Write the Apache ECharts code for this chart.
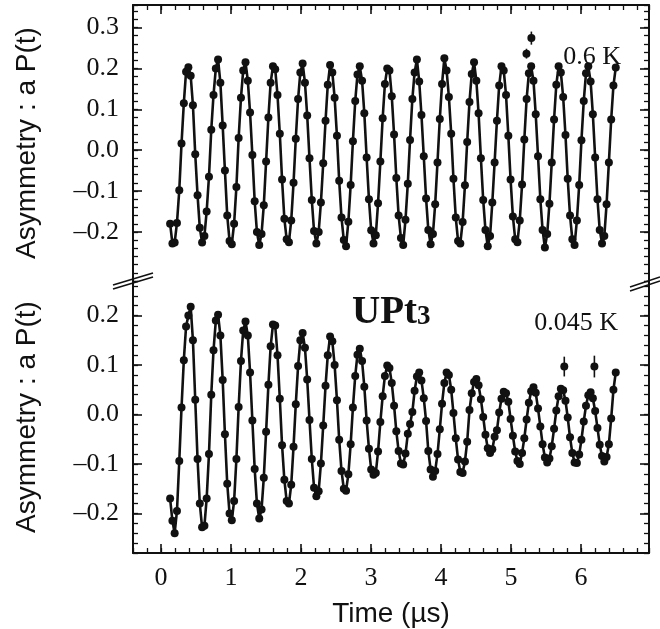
<!DOCTYPE html>
<html>
<head>
<meta charset="utf-8">
<script src="https://cdn.jsdelivr.net/npm/echarts@6/dist/echarts.min.js"></script>
<style>
html, body { margin: 0; padding: 0; background: #fff; }
#chart { width: 660px; height: 629px; }
</style>
</head>
<body>
<div id="chart"></div>
<script>
// time bins (µs), shared by both runs
var time = [0.130,0.163,0.195,0.228,0.261,0.293,0.326,0.358,0.391,0.424,0.456,0.489,0.522,0.554,0.587,0.620,0.652,0.685,0.718,0.750,0.783,0.815,0.848,0.881,0.913,
  0.946,0.979,1.011,1.044,1.077,1.109,1.142,1.174,1.207,1.240,1.272,1.305,1.338,1.370,1.403,1.436,1.468,1.501,1.534,1.566,1.599,1.631,1.664,1.697,1.729,
  1.762,1.795,1.827,1.860,1.893,1.925,1.958,1.990,2.023,2.056,2.088,2.121,2.154,2.186,2.219,2.252,2.284,2.317,2.350,2.382,2.415,2.447,2.480,2.513,2.545,
  2.578,2.611,2.643,2.676,2.709,2.741,2.774,2.806,2.839,2.872,2.904,2.937,2.970,3.002,3.035,3.068,3.100,3.133,3.166,3.198,3.231,3.263,3.296,3.329,3.361,
  3.394,3.427,3.459,3.492,3.525,3.557,3.590,3.622,3.655,3.688,3.720,3.753,3.786,3.818,3.851,3.884,3.916,3.949,3.982,4.014,4.047,4.079,4.112,4.145,4.177,
  4.210,4.243,4.275,4.308,4.341,4.373,4.406,4.438,4.471,4.504,4.536,4.569,4.602,4.634,4.667,4.700,4.732,4.765,4.798,4.830,4.863,4.895,4.928,4.961,4.993,
  5.026,5.059,5.091,5.124,5.157,5.189,5.222,5.254,5.287,5.320,5.352,5.385,5.418,5.450,5.483,5.516,5.548,5.581,5.614,5.646,5.679,5.711,5.744,5.777,5.809,
  5.842,5.875,5.907,5.940,5.973,6.005,6.038,6.070,6.103,6.136,6.168,6.201,6.234,6.266,6.299,6.332,6.364,6.397,6.430,6.462,6.495];

// 0.6 K run
var asym06K = [-0.180,-0.228,-0.226,-0.178,-0.098,0.016,0.115,0.192,0.203,0.182,0.110,-0.010,-0.110,-0.190,-0.226,-0.210,-0.150,-0.065,0.050,0.135,0.200,0.222,0.165,0.060,-0.050,
  -0.160,-0.222,-0.230,-0.180,-0.090,0.030,0.128,0.195,0.215,0.170,0.092,-0.012,-0.125,-0.200,-0.232,-0.205,-0.135,-0.028,0.080,0.165,0.205,0.198,0.135,0.040,-0.072,
  -0.168,-0.218,-0.225,-0.172,-0.080,0.028,0.125,0.190,0.212,0.165,0.085,-0.020,-0.122,-0.198,-0.228,-0.200,-0.128,-0.032,0.072,0.160,0.208,0.190,0.128,0.035,-0.075,
  -0.165,-0.220,-0.235,-0.175,-0.085,0.022,0.120,0.185,0.205,0.170,0.090,-0.018,-0.120,-0.196,-0.228,-0.208,-0.130,-0.028,0.078,0.162,0.200,0.195,0.132,0.038,-0.068,
  -0.160,-0.215,-0.232,-0.170,-0.082,0.025,0.125,0.190,0.222,0.168,0.086,-0.015,-0.118,-0.195,-0.230,-0.205,-0.132,-0.030,0.076,0.162,0.225,0.195,0.130,0.040,-0.070,
  -0.165,-0.222,-0.228,-0.176,-0.086,0.020,0.118,0.186,0.215,0.170,0.090,-0.020,-0.122,-0.195,-0.235,-0.210,-0.128,-0.030,0.072,0.158,0.205,0.195,0.135,0.035,-0.072,
  -0.162,-0.218,-0.225,-0.172,-0.084,0.026,0.125,0.188,0.205,0.170,0.088,-0.015,-0.120,-0.195,-0.238,-0.205,-0.131,-0.030,0.075,0.160,0.205,0.190,0.130,0.037,-0.070,
  -0.160,-0.218,-0.232,-0.172,-0.085,0.024,0.120,0.188,0.205,0.168,0.088,-0.018,-0.120,-0.195,-0.228,-0.210,-0.132,-0.030,0.075,0.158,0.202];

// 0.045 K run
var asym0045K = [-0.170,-0.215,-0.240,-0.195,-0.094,0.014,0.110,0.178,0.200,0.218,0.150,0.030,-0.090,-0.180,-0.228,-0.225,-0.170,-0.080,0.040,0.130,0.190,0.202,0.160,0.070,-0.040,
  -0.140,-0.200,-0.214,-0.175,-0.090,0.015,0.108,0.170,0.188,0.160,0.085,-0.012,-0.110,-0.180,-0.210,-0.192,-0.128,-0.035,0.060,0.138,0.182,0.180,0.120,0.032,-0.062,
  -0.132,-0.175,-0.180,-0.142,-0.065,0.021,0.098,0.150,0.165,0.135,0.071,-0.011,-0.090,-0.148,-0.165,-0.155,-0.099,-0.022,0.058,0.120,0.158,0.148,0.100,0.029,-0.051,
  -0.114,-0.150,-0.154,-0.121,-0.060,0.014,0.078,0.121,0.133,0.108,0.056,-0.012,-0.069,-0.111,-0.122,-0.118,-0.075,-0.015,0.037,0.078,0.099,0.094,0.064,0.018,-0.034,
  -0.074,-0.099,-0.101,-0.079,-0.039,-0.019,0.005,0.048,0.077,0.085,0.069,0.033,-0.013,-0.074,-0.111,-0.126,-0.114,-0.080,-0.030,0.022,0.064,0.085,0.080,0.050,0.003,
  -0.048,-0.091,-0.116,-0.118,-0.095,-0.055,0.009,0.043,0.066,0.072,0.059,0.031,-0.005,-0.041,-0.068,-0.078,-0.070,-0.045,-0.032,0.004,0.032,0.046,0.043,0.026,-0.009,
  -0.043,-0.075,-0.094,-0.100,-0.078,-0.048,-0.010,0.024,0.047,0.055,0.044,0.012,-0.024,-0.060,-0.087,-0.097,-0.089,-0.064,-0.029,0.008,0.037,0.052,0.049,0.028,-0.006,
  -0.046,-0.078,-0.097,-0.098,-0.081,-0.051,-0.014,0.018,0.039,0.045,0.033,0.007,-0.027,-0.061,-0.084,-0.095,-0.086,-0.060,-0.008,0.050,0.085];

// stray points off the curve: [time, value, error half-height]
var stray06K = [[5.22, 0.236, 0.012], [5.29, 0.274, 0.016]];
var stray0045K = [[5.76, 0.097, 0.020], [6.19, 0.097, 0.022]];

var xMajor = [0, 1, 2, 3, 4, 5, 6];
var yTopMajor = [-0.2, -0.1, 0, 0.1, 0.2, 0.3];
var yBotMajor = [-0.2, -0.1, 0, 0.1, 0.2];

var ink = '#111';
var serif = 'Liberation Serif';
var sans = 'Liberation Sans';

function fmtY(v) {
    var s = Math.abs(v).toFixed(1);
    return v < -1e-9 ? '\u2013' + s : s;
}

// one panel's y axes: major ticks + labels, minor ticks, both sides
function panelY(grid, min, max, major, name) {
    var line = { show: true, onZero: false, lineStyle: { color: ink, width: 2 } };
    var noLine = { show: false, onZero: false };
    return [
        {
            gridIndex: grid, type: 'value', position: 'left', min: min, max: max,
            axisLine: line,
            axisTick: { show: true, inside: true, length: 9, customValues: major, lineStyle: { color: ink, width: 1.6 } },
            axisLabel: { customValues: major, margin: 14, formatter: fmtY, color: ink, fontFamily: serif, fontSize: 26 },
            splitLine: { show: false },
            name: name, nameLocation: 'middle', nameRotate: 90, nameGap: 92,
            nameTextStyle: { fontFamily: sans, fontSize: 28, color: ink }
        },
        {
            gridIndex: grid, type: 'value', position: 'left', min: min, max: max, interval: 0.02,
            axisLine: noLine,
            axisTick: { show: true, inside: true, length: 5, lineStyle: { color: ink, width: 1.3 } },
            axisLabel: { show: false }, splitLine: { show: false }
        },
        {
            gridIndex: grid, type: 'value', position: 'right', min: min, max: max,
            axisLine: line,
            axisTick: { show: true, inside: true, length: 9, customValues: major, lineStyle: { color: ink, width: 1.6 } },
            axisLabel: { show: false }, splitLine: { show: false }
        },
        {
            gridIndex: grid, type: 'value', position: 'right', min: min, max: max, interval: 0.02,
            axisLine: noLine,
            axisTick: { show: true, inside: true, length: 5, lineStyle: { color: ink, width: 1.3 } },
            axisLabel: { show: false }, splitLine: { show: false }
        }
    ];
}

function panelX(grid, pos, withLabels) {
    var major = {
        gridIndex: grid, type: 'value', position: pos, min: -0.4, max: 6.97,
        axisLine: { show: true, onZero: false, lineStyle: { color: ink, width: 2 } },
        axisTick: { show: true, inside: true, length: 9, customValues: xMajor, lineStyle: { color: ink, width: 1.6 } },
        axisLabel: { show: withLabels, customValues: xMajor, margin: 12, color: ink, fontFamily: serif, fontSize: 26 },
        splitLine: { show: false }
    };
    if (withLabels) {
        major.name = 'Time (\u00b5s)';
        major.nameLocation = 'middle';
        major.nameGap = 47;
        major.nameTextStyle = { fontFamily: sans, fontSize: 28, color: ink };
    }
    var minor = {
        gridIndex: grid, type: 'value', position: pos, min: -0.4, max: 6.97, interval: 0.2,
        axisLine: { show: false, onZero: false },
        axisTick: { show: true, inside: true, length: 5, lineStyle: { color: ink, width: 1.3 } },
        axisLabel: { show: false }, splitLine: { show: false }
    };
    return [major, minor];
}

function pairs(ys) {
    return time.map(function (t, i) { return [t, ys[i]]; });
}

function errBar(params, api) {
    var x = api.value(0), y = api.value(1), e = api.value(2);
    var a = api.coord([x, y + e]);
    var b = api.coord([x, y - e]);
    return { type: 'line', shape: { x1: a[0], y1: a[1], x2: b[0], y2: b[1] }, style: { stroke: ink, lineWidth: 1.6 } };
}

function runSeries(xi, yi, ys, stray) {
    return [
        {
            type: 'line', xAxisIndex: xi, yAxisIndex: yi, data: pairs(ys),
            symbol: 'circle', symbolSize: 8, showAllSymbol: true,
            lineStyle: { color: ink, width: 2.6 }, itemStyle: { color: ink }
        },
        {
            type: 'scatter', xAxisIndex: xi, yAxisIndex: yi, data: stray,
            symbol: 'circle', symbolSize: 8, itemStyle: { color: ink, opacity: 1 }
        },
        {
            type: 'custom', xAxisIndex: xi, yAxisIndex: yi, data: stray,
            encode: { x: 0, y: 1 }, renderItem: errBar
        }
    ];
}

var chart = echarts.init(document.getElementById('chart'));

var yAxes = panelY(0, -0.32, 0.355, yTopMajor, 'Asymmetry : a P(t)')
    .concat(panelY(1, -0.28, 0.27, yBotMajor, 'Asymmetry : a P(t)'));
var xAxes = panelX(0, 'top', false).concat(panelX(1, 'bottom', true));

var txt = function (text, x, y, font, align) {
    return {
        type: 'text', x: x, y: y, z: 100,
        style: { text: text, font: font, fill: ink, textAlign: align || 'left', textVerticalAlign: 'alphabetic' }
    };
};
var brk = function (x1, y1, x2, y2) {
    return { type: 'line', z: 100, shape: { x1: x1, y1: y1, x2: x2, y2: y2 }, style: { stroke: ink, lineWidth: 1.6 } };
};

chart.setOption({
    animation: false,
    backgroundColor: '#fff',
    grid: [
        { left: 133, right: 11, top: 5, height: 276 },
        { left: 133, right: 11, top: 281, height: 273 }
    ],
    xAxis: xAxes,
    yAxis: yAxes,
    series: runSeries(0, 0, asym06K, stray06K).concat(runSeries(2, 4, asym0045K, stray0045K)),
    graphic: [
        txt('0.6 K', 621, 44, '26px "Liberation Serif"', 'right'),
        txt('0.045 K', 618, 310, '26px "Liberation Serif"', 'right'),
        txt('UPt', 352, 293, 'bold 39px "Liberation Serif"'),
        txt('3', 417, 304, 'bold 27px "Liberation Serif"'),
        brk(113, 285, 153, 273),
        brk(113, 289, 153, 277),
        brk(630, 287, 660, 277),
        brk(630, 291, 660, 281)
    ]
});
</script>
</body>
</html>
